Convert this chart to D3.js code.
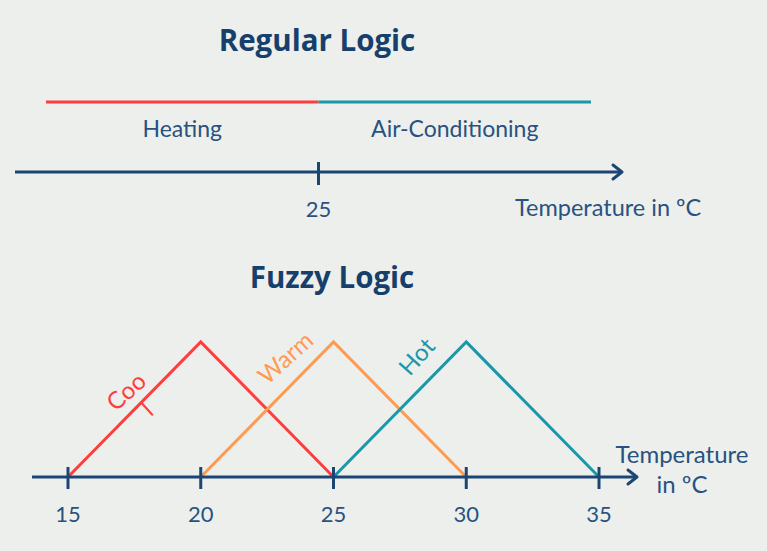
<!DOCTYPE html>
<html>
<head>
<meta charset="utf-8">
<script src="https://cdn.jsdelivr.net/npm/d3@7"></script>
<style>
  html, body { margin: 0; padding: 0; background: #edefec; }
  text { font-family: Lato, "Open Sans", sans-serif; }
  text.title { font-family: "Open Sans", Lato, sans-serif; font-weight: bold; }
</style>
</head>
<body>
<div id="chart"></div>
<script>
// Data
const regularZones = [
    { name: "Heating", from: 15, to: 25, color: "#ff3d3d" },
    { name: "Air-Conditioning", from: 25, to: 35, color: "#1998aa" }
];
const regularTicks = [25];

const fuzzySets = [
    { name: "Cool", points: [[15, 0], [20, 1], [25, 0]], color: "#ff3d3d", label: [17.2, 0.63], angle: -42 },
    { name: "Warm", points: [[20, 0], [25, 1], [30, 0]], color: "#ff9a4f", label: [23.2, 0.88], angle: -42 },
    { name: "Hot",  points: [[25, 0], [30, 1], [35, 0]], color: "#1998aa", label: [28.15, 0.89], angle: -48 }
];
const fuzzyTicks = [15, 20, 25, 30, 35];

const axisTitle = "Temperature in ºC";

// SVG setup
const width = 767;
const height = 551;
const navy = "#1b4674";
const textColor = "#28527f";

const svg = d3.select("#chart")
    .append("svg")
    .attr("width", width)
    .attr("height", height)
    .attr("viewBox", `0 0 ${width} ${height}`);

svg.append("rect")
    .attr("width", width)
    .attr("height", height)
    .attr("fill", "#edefec");

function arrowAxis(g, x0, x1, y) {
    g.append("line")
        .attr("x1", x0).attr("x2", x1)
        .attr("y1", y).attr("y2", y)
        .attr("stroke", navy)
        .attr("stroke-width", 3);
    g.append("path")
        .attr("d", `M${x1 - 9},${y - 7} L${x1},${y} L${x1 - 9},${y + 7}`)
        .attr("fill", "none")
        .attr("stroke", navy)
        .attr("stroke-width", 3)
        .attr("stroke-linecap", "round")
        .attr("stroke-linejoin", "round");
}

// ---------- Regular logic ----------
const xTop = d3.scaleLinear().domain([15, 35]).range([46, 591]);
const regular = svg.append("g");

regular.append("text")
    .attr("class", "title")
    .attr("x", 317)
    .attr("y", 51)
    .attr("text-anchor", "middle")
    .attr("fill", "#173f6b")
    .style("font-size", "29.5px")
    .text("Regular Logic");

regular.selectAll("line.zone")
    .data(regularZones)
    .join("line")
    .attr("class", "zone")
    .attr("x1", d => xTop(d.from))
    .attr("x2", d => xTop(d.to))
    .attr("y1", 102)
    .attr("y2", 102)
    .attr("stroke", d => d.color)
    .attr("stroke-width", 3);

regular.selectAll("text.zone")
    .data(regularZones)
    .join("text")
    .attr("class", "zone")
    .attr("x", d => xTop((d.from + d.to) / 2))
    .attr("y", 137)
    .attr("text-anchor", "middle")
    .attr("fill", textColor)
    .style("font-size", "23px")
    .text(d => d.name);

arrowAxis(regular, 15, 622, 172);

regular.selectAll("line.tick")
    .data(regularTicks)
    .join("line")
    .attr("class", "tick")
    .attr("x1", d => xTop(d))
    .attr("x2", d => xTop(d))
    .attr("y1", 162)
    .attr("y2", 185)
    .attr("stroke", navy)
    .attr("stroke-width", 3);

regular.selectAll("text.tick")
    .data(regularTicks)
    .join("text")
    .attr("class", "tick")
    .attr("x", d => xTop(d))
    .attr("y", 217)
    .attr("text-anchor", "middle")
    .attr("fill", textColor)
    .style("font-size", "22px")
    .text(d => d);

regular.append("text")
    .attr("x", 515)
    .attr("y", 216)
    .attr("fill", textColor)
    .style("font-size", "23.5px")
    .text(axisTitle);

// ---------- Fuzzy logic ----------
const x = d3.scaleLinear().domain([15, 35]).range([68, 599]);
const y = d3.scaleLinear().domain([0, 1]).range([477, 342]);
const fuzzy = svg.append("g");

fuzzy.append("text")
    .attr("class", "title")
    .attr("x", 332)
    .attr("y", 288)
    .attr("text-anchor", "middle")
    .attr("fill", "#173f6b")
    .style("font-size", "29.5px")
    .text("Fuzzy Logic");

const line = d3.line().x(d => x(d[0])).y(d => y(d[1]));

fuzzy.selectAll("path.set")
    .data(fuzzySets)
    .join("path")
    .attr("class", "set")
    .attr("d", d => line(d.points))
    .attr("fill", "none")
    .attr("stroke", d => d.color)
    .attr("stroke-width", 3)
    .attr("stroke-linejoin", "miter");

// Set labels (the "l" of Cool wraps onto a second line, as in the original)
const labels = fuzzy.selectAll("g.label")
    .data(fuzzySets)
    .join("g")
    .attr("class", "label")
    .attr("transform", d => `translate(${x(d.label[0])},${y(d.label[1])}) rotate(${d.angle})`);

labels.each(function(d) {
    const t = d3.select(this).append("text")
        .attr("text-anchor", "middle")
        .attr("fill", d.color)
        .style("font-size", "24px");
    const parts = d.name === "Cool" ? ["Coo", "l"] : [d.name];
    parts.forEach((p, i) => {
        t.append("tspan")
            .attr("x", i === 0 ? 0 : 4)
            .attr("y", i * 27 + 8)
            .text(p);
    });
});

arrowAxis(fuzzy, 32, 637, 477);

fuzzy.selectAll("line.tick")
    .data(fuzzyTicks)
    .join("line")
    .attr("class", "tick")
    .attr("x1", d => x(d))
    .attr("x2", d => x(d))
    .attr("y1", 467)
    .attr("y2", 489)
    .attr("stroke", navy)
    .attr("stroke-width", 3);

fuzzy.selectAll("text.tick")
    .data(fuzzyTicks)
    .join("text")
    .attr("class", "tick")
    .attr("x", d => x(d))
    .attr("y", 522)
    .attr("text-anchor", "middle")
    .attr("fill", textColor)
    .style("font-size", "22px")
    .text(d => d);

const axisLabel = fuzzy.append("text")
    .attr("text-anchor", "middle")
    .attr("fill", textColor)
    .style("font-size", "24px");
axisLabel.append("tspan").attr("x", 682).attr("y", 463).text("Temperature");
axisLabel.append("tspan").attr("x", 682).attr("y", 493).text("in ºC");
</script>
</body>
</html>
